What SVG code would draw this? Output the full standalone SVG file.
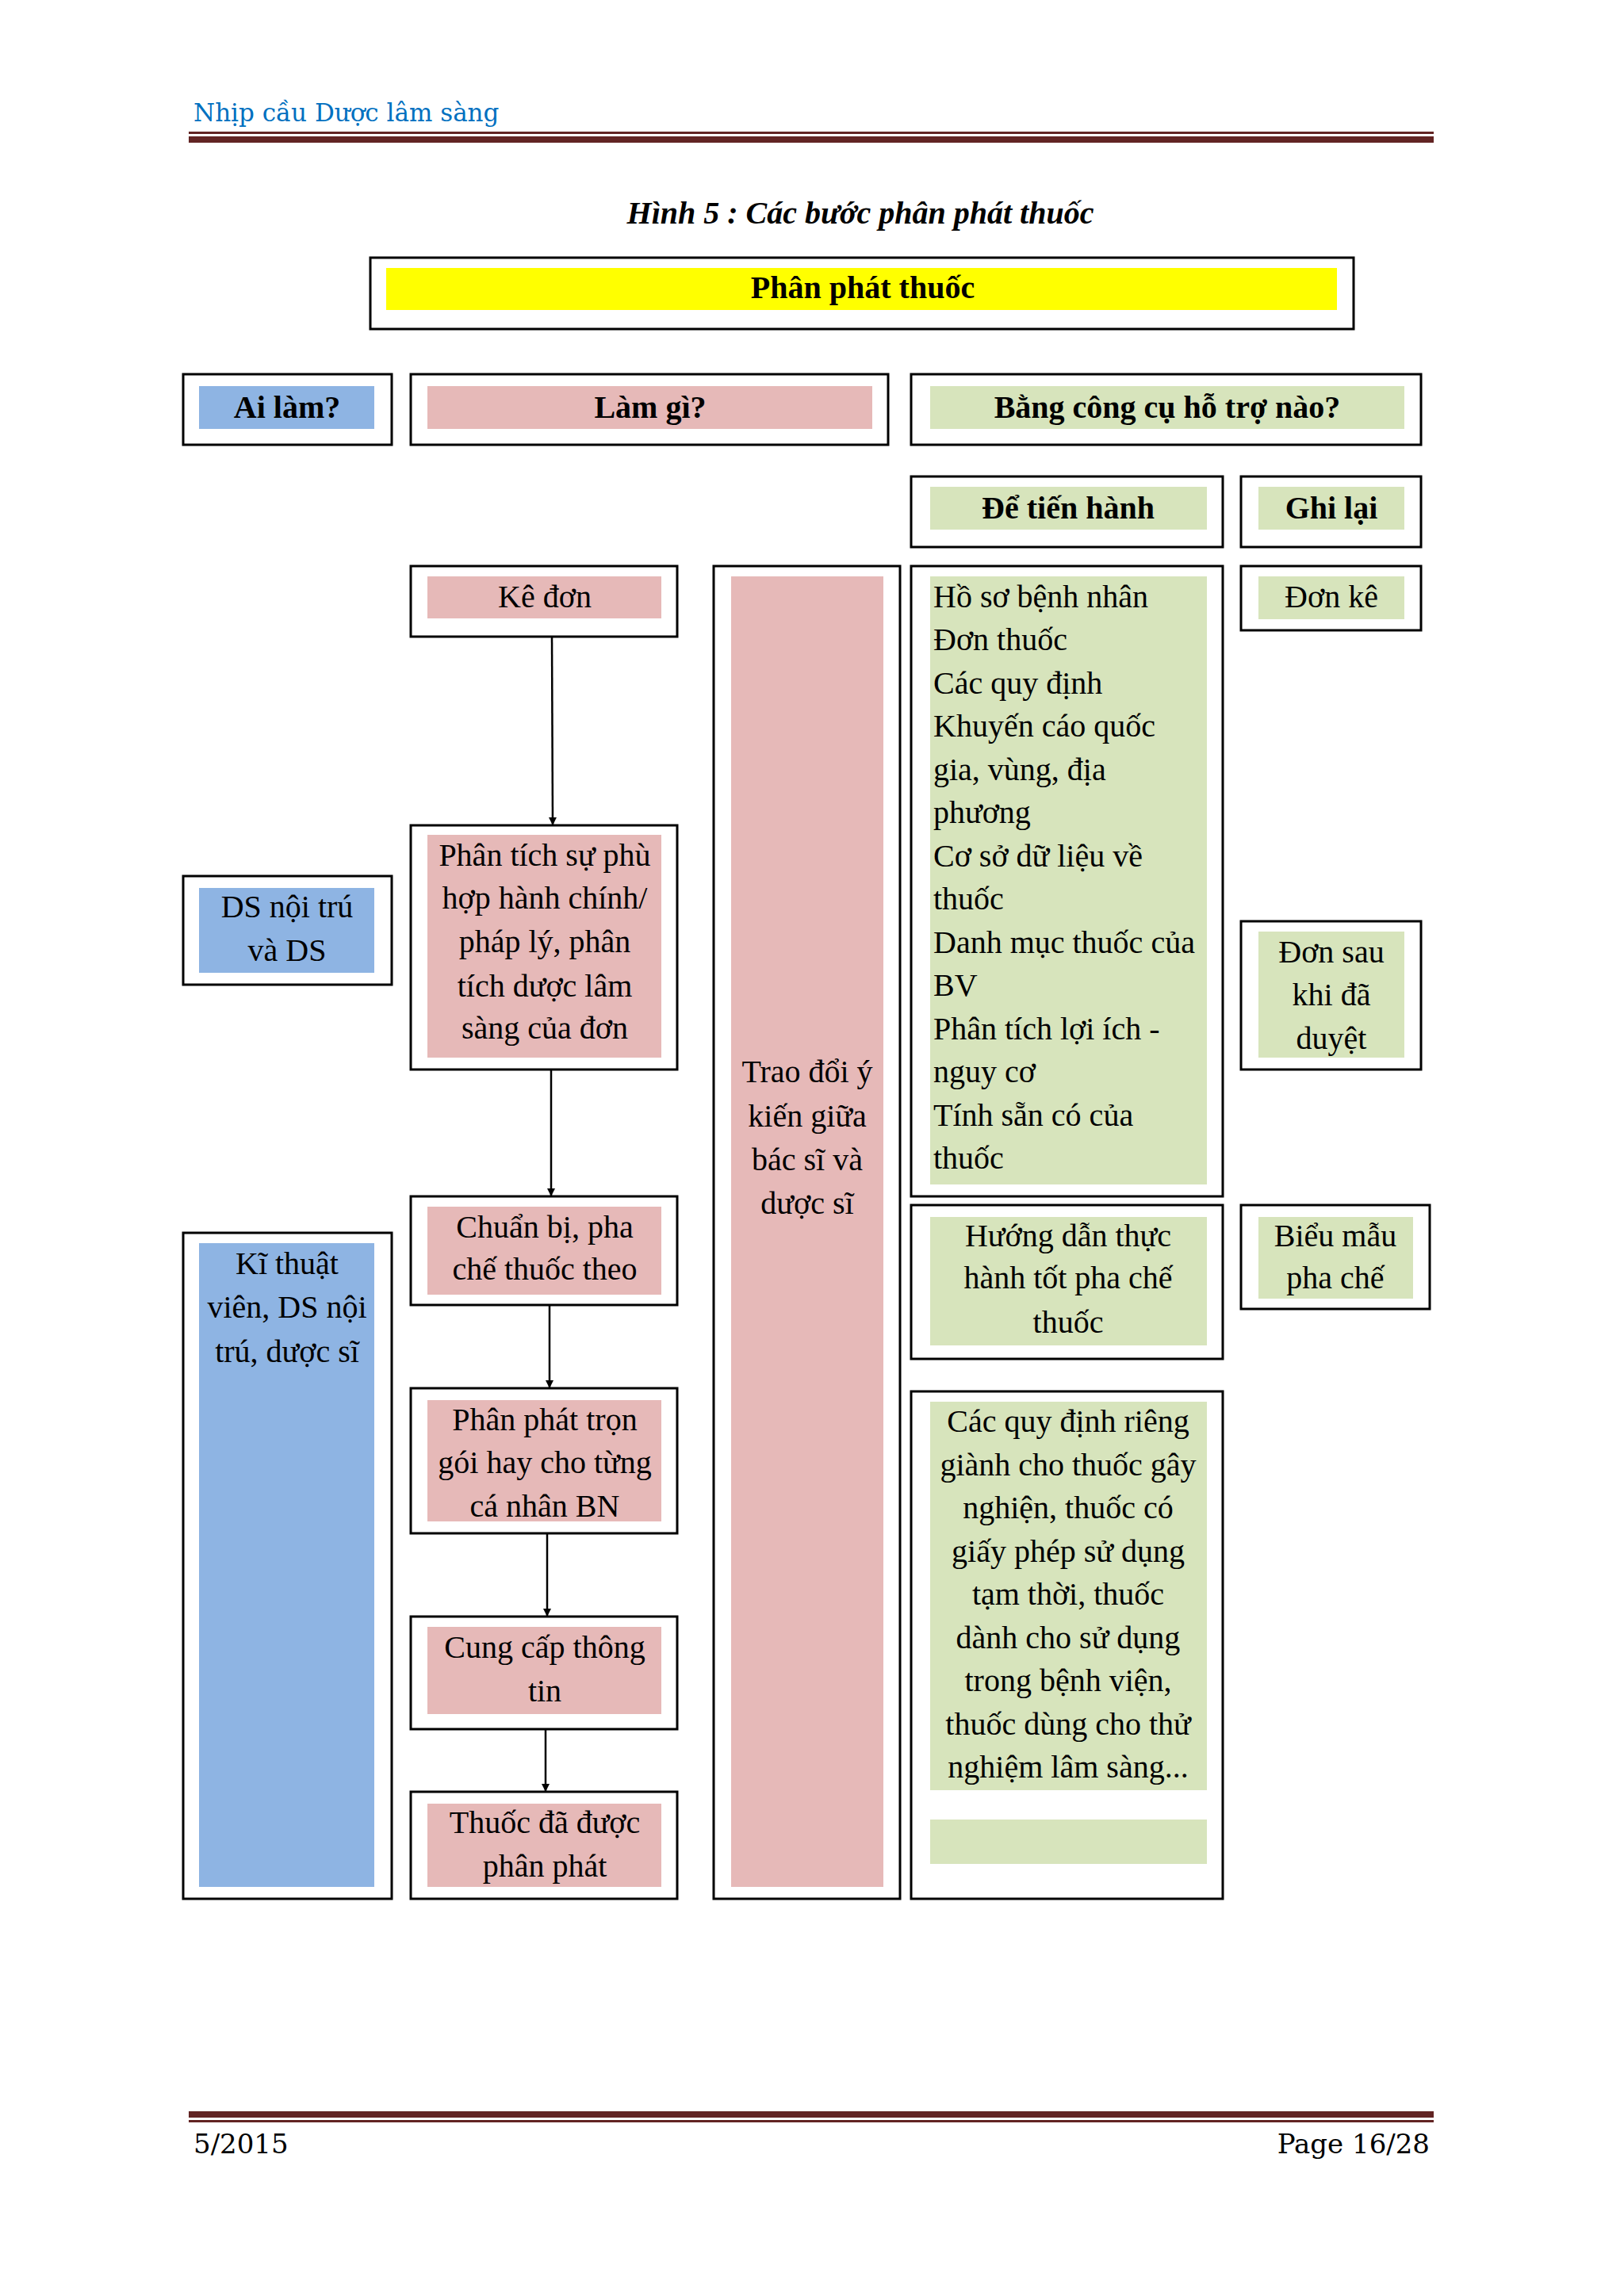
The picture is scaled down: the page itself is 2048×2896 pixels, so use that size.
<svg xmlns="http://www.w3.org/2000/svg" width="2048" height="2896" viewBox="0 0 2048 2896">
<style>
text{font-family:"Liberation Serif","Times New Roman",serif;font-size:40px;fill:#000}
.c{text-anchor:middle}
.b{font-weight:bold}
.o{fill:#fff;stroke:#000;stroke-width:3}
.bl{fill:#8EB4E3}.pk{fill:#E6B9B8}.gr{fill:#D7E4BC}
.ln{stroke:#000;stroke-width:2.5;fill:none;marker-end:url(#a)}
</style>
<defs><marker id="a" markerWidth="10" markerHeight="10" refX="9" refY="5" orient="auto" markerUnits="userSpaceOnUse"><path d="M0,0L10,5L0,10z" transform="scale(2) translate(-5,-2.5)"/></marker></defs>
<rect width="2048" height="2896" fill="#fff"/>
<text x="244" y="153" style="fill:#0070C0;font-family:'DejaVu Serif','Liberation Serif',serif;font-size:31px">Nhịp cầu Dược lâm sàng</text>
<rect x="238" y="166" width="1570" height="3" fill="#622423"/>
<rect x="238" y="172" width="1570" height="8" fill="#622423"/>
<text x="1085" y="282" class="c b" style="font-style:italic">Hình 5 : Các bước phân phát thuốc</text>
<g id="title"><rect class="o" x="467" y="325" width="1240" height="90"/><rect x="487" y="338" width="1199" height="53" fill="#FFFF00"/><text x="1088" y="376" class="c b">Phân phát thuốc</text></g>
<g id="ai"><rect class="o" x="231" y="472" width="263" height="89"/><rect class="bl" x="251" y="487" width="221" height="54"/><text x="362" y="527" class="c b">Ai làm?</text></g>
<g id="lamgi"><rect class="o" x="518" y="472" width="602" height="89"/><rect class="pk" x="539" y="487" width="561" height="54"/><text x="820" y="527" class="c b">Làm gì?</text></g>
<g id="congcu"><rect class="o" x="1149" y="472" width="643" height="89"/><rect class="gr" x="1173" y="487" width="598" height="54"/><text x="1472" y="527" class="c b">Bằng công cụ hỗ trợ nào?</text></g>
<g id="detien"><rect class="o" x="1149" y="601" width="393" height="89"/><rect class="gr" x="1173" y="614" width="349" height="54"/><text x="1347" y="654" class="c b">Để tiến hành</text></g>
<g id="ghilai"><rect class="o" x="1565" y="601" width="227" height="89"/><rect class="gr" x="1587" y="614" width="184" height="54"/><text x="1679" y="654" class="c b">Ghi lại</text></g>
<g id="keDon"><rect class="o" x="518" y="714" width="336" height="89"/><rect class="pk" x="539" y="727" width="295" height="53"/><text x="687" y="766" class="c">Kê đơn</text></g>
<g id="traodoi"><rect class="o" x="900" y="714" width="235" height="1681"/><rect class="pk" x="922" y="727" width="192" height="1653"/><text class="c"><tspan x="1018" y="1365">Trao đổi ý</tspan><tspan x="1018" y="1421">kiến giữa</tspan><tspan x="1018" y="1476">bác sĩ và</tspan><tspan x="1018" y="1531">dược sĩ</tspan></text></g>
<g id="hoso"><rect class="o" x="1149" y="714" width="393" height="795"/><rect class="gr" x="1173" y="727" width="349" height="767"/>
<text><tspan x="1177" y="766">Hồ sơ bệnh nhân</tspan><tspan x="1177" y="820">Đơn thuốc</tspan><tspan x="1177" y="875">Các quy định</tspan><tspan x="1177" y="929">Khuyến cáo quốc</tspan><tspan x="1177" y="984">gia, vùng, địa</tspan><tspan x="1177" y="1038">phương</tspan><tspan x="1177" y="1093">Cơ sở dữ liệu về</tspan><tspan x="1177" y="1147">thuốc</tspan><tspan x="1177" y="1202">Danh mục thuốc của</tspan><tspan x="1177" y="1256">BV</tspan><tspan x="1177" y="1311">Phân tích lợi ích -</tspan><tspan x="1177" y="1365">nguy cơ</tspan><tspan x="1177" y="1420">Tính sẵn có của</tspan><tspan x="1177" y="1474">thuốc</tspan></text></g>
<g id="donke"><rect class="o" x="1565" y="714" width="227" height="81"/><rect class="gr" x="1587" y="727" width="184" height="54"/><text x="1679" y="766" class="c">Đơn kê</text></g>
<g id="dsnoitru"><rect class="o" x="231" y="1105" width="263" height="137"/><rect class="bl" x="251" y="1120" width="221" height="107"/><text class="c"><tspan x="362" y="1157">DS nội trú</tspan><tspan x="362" y="1212">và DS</tspan></text></g>
<g id="phantich"><rect class="o" x="518" y="1041" width="336" height="308"/><rect class="pk" x="539" y="1053" width="295" height="281"/><text class="c"><tspan x="687" y="1092">Phân tích sự phù</tspan><tspan x="687" y="1146">hợp hành chính/</tspan><tspan x="687" y="1201">pháp lý, phân</tspan><tspan x="687" y="1257">tích dược lâm</tspan><tspan x="687" y="1310">sàng của đơn</tspan></text></g>
<g id="donsau"><rect class="o" x="1565" y="1162" width="227" height="187"/><rect class="gr" x="1587" y="1175" width="184" height="159"/><text class="c"><tspan x="1679" y="1214">Đơn sau</tspan><tspan x="1679" y="1268">khi đã</tspan><tspan x="1679" y="1323">duyệt</tspan></text></g>
<g id="chuanbi"><rect class="o" x="518" y="1509" width="336" height="137"/><rect class="pk" x="539" y="1522" width="295" height="111"/><text class="c"><tspan x="687" y="1561">Chuẩn bị, pha</tspan><tspan x="687" y="1614">chế thuốc theo</tspan></text></g>
<g id="huongdan"><rect class="o" x="1149" y="1520" width="393" height="194"/><rect class="gr" x="1173" y="1535" width="349" height="162"/><text class="c"><tspan x="1347" y="1572">Hướng dẫn thực</tspan><tspan x="1347" y="1625">hành tốt pha chế</tspan><tspan x="1347" y="1681">thuốc</tspan></text></g>
<g id="bieumau"><rect class="o" x="1565" y="1520" width="238" height="131"/><rect class="gr" x="1587" y="1535" width="195" height="103"/><text class="c"><tspan x="1684" y="1572">Biểu mẫu</tspan><tspan x="1684" y="1625">pha chế</tspan></text></g>
<g id="kithuat"><rect class="o" x="231" y="1555" width="263" height="840"/><rect class="bl" x="251" y="1568" width="221" height="812"/><text class="c"><tspan x="362" y="1607">Kĩ thuật</tspan><tspan x="362" y="1662">viên, DS nội</tspan><tspan x="362" y="1718">trú, dược sĩ</tspan></text></g>
<g id="phanphat"><rect class="o" x="518" y="1751" width="336" height="183"/><rect class="pk" x="539" y="1766" width="295" height="153"/><text class="c"><tspan x="687" y="1804">Phân phát trọn</tspan><tspan x="687" y="1858">gói hay cho từng</tspan><tspan x="687" y="1913">cá nhân BN</tspan></text></g>
<g id="quydinh"><rect class="o" x="1149" y="1755" width="393" height="640"/><rect class="gr" x="1173" y="1768" width="349" height="490"/><rect class="gr" x="1173" y="2295" width="349" height="56"/>
<text class="c"><tspan x="1347" y="1806">Các quy định riêng</tspan><tspan x="1347" y="1861">giành cho thuốc gây</tspan><tspan x="1347" y="1915">nghiện, thuốc có</tspan><tspan x="1347" y="1970">giấy phép sử dụng</tspan><tspan x="1347" y="2024">tạm thời, thuốc</tspan><tspan x="1347" y="2079">dành cho sử dụng</tspan><tspan x="1347" y="2133">trong bệnh viện,</tspan><tspan x="1347" y="2188">thuốc dùng cho thử</tspan><tspan x="1347" y="2242">nghiệm lâm sàng...</tspan></text></g>
<g id="cungcap"><rect class="o" x="518" y="2039" width="336" height="142"/><rect class="pk" x="539" y="2052" width="295" height="110"/><text class="c"><tspan x="687" y="2091">Cung cấp thông</tspan><tspan x="687" y="2146">tin</tspan></text></g>
<g id="thuocda"><rect class="o" x="518" y="2260" width="336" height="135"/><rect class="pk" x="539" y="2275" width="295" height="105"/><text class="c"><tspan x="687" y="2312">Thuốc đã được</tspan><tspan x="687" y="2367">phân phát</tspan></text></g>
<g id="connectors">
<path class="ln" d="M696,803L697,1040"/>
<path class="ln" d="M695,1349L695,1508"/>
<path class="ln" d="M693,1646L693,1750"/>
<path class="ln" d="M690,1934L690,2038"/>
<path class="ln" d="M688,2181L688,2259"/>
</g>
<rect x="238" y="2663" width="1570" height="8" fill="#622423"/>
<rect x="238" y="2674" width="1570" height="3" fill="#622423"/>
<text x="244" y="2716" style="font-family:'DejaVu Serif','Liberation Serif',serif;font-size:34px">5/2015</text>
<text x="1803" y="2716" style="font-family:'DejaVu Serif','Liberation Serif',serif;font-size:34px;text-anchor:end">Page 16/28</text>
</svg>
